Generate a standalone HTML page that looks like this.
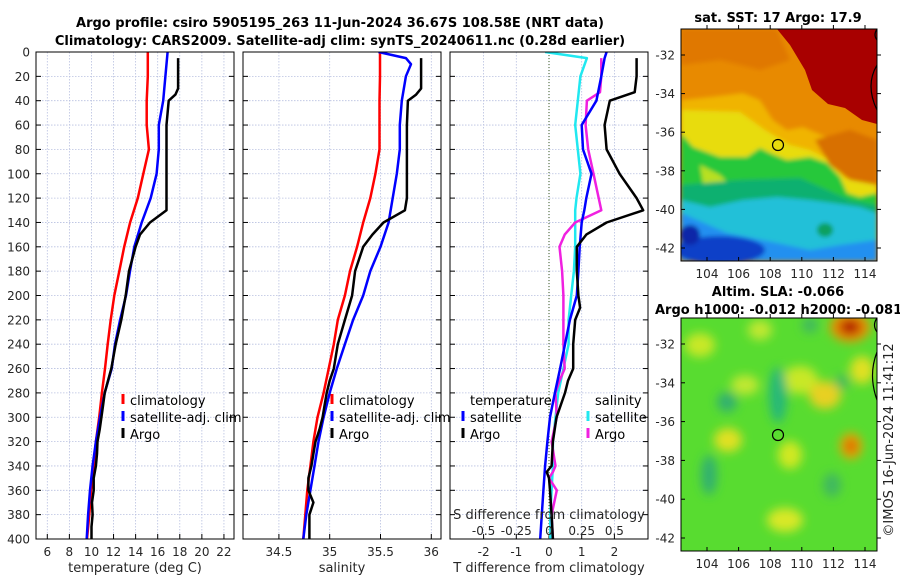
<!DOCTYPE html>
<html><head><meta charset="utf-8"><style>
html,body{margin:0;padding:0;background:#fff}
svg{display:block;font-family:"DejaVu Sans","Liberation Sans",sans-serif}
</style></head><body>
<svg id="c" width="900" height="580" xmlns="http://www.w3.org/2000/svg">
<defs>
<clipPath id="cp1"><rect x="36" y="52" width="198" height="487"/></clipPath>
<clipPath id="cp2"><rect x="243" y="52" width="198" height="487"/></clipPath>
<clipPath id="cp3"><rect x="450" y="52" width="198" height="487"/></clipPath>
<clipPath id="cm1"><rect x="681" y="29" width="196" height="232"/></clipPath>
<clipPath id="cm2"><rect x="681" y="318" width="196" height="233"/></clipPath>
<filter id="bl" x="-20%" y="-20%" width="140%" height="140%"><feGaussianBlur stdDeviation="2"/></filter>
<filter id="bl2" x="-50%" y="-50%" width="200%" height="200%"><feGaussianBlur stdDeviation="5"/></filter>
</defs>
<g font-weight="bold" font-size="13" text-anchor="middle" fill="#000">
<text x="340" y="27">Argo profile: csiro 5905195_263 11-Jun-2024 36.67S 108.58E (NRT data)</text>
<text x="340" y="45">Climatology: CARS2009. Satellite-adj clim: synTS_20240611.nc (0.28d earlier)</text>
</g>
<g id="plots"></g>
<!-- SST map -->
<g>
<text x="778" y="22" font-size="13" font-weight="bold" text-anchor="middle">sat. SST: 17 Argo: 17.9</text>
<g clip-path="url(#cm1)">
<rect x="681" y="29" width="196" height="232" fill="#e88a00"/>
<g filter="url(#bl)">
<polygon fill="#e07800" points="681,29 777,29 790,60 760,70 720,60 681,65"/>
<polygon fill="#f0b400" points="681,100 710,97 743,93 760,100 773,120 787,130 803,127 817,133 833,140 860,157 877,160 877,261 681,261"/>
<polygon fill="#e8dc10" points="681,110 740,112 765,130 790,145 810,150 830,160 845,178 877,185 877,261 681,261"/>
<polygon fill="#d87000" points="815,140 850,130 877,140 877,185 850,180 830,165"/>
<polygon fill="#28c83a" points="681,133 693,147 720,157 747,157 760,148 770,153 787,160 810,157 827,163 840,177 847,193 860,197 877,193 877,261 681,261"/>
<polygon fill="#b8e020" points="700,165 720,175 735,190 720,200 705,195"/>
<polygon fill="#10b070" points="681,185 740,180 800,178 850,200 877,205 877,261 681,261"/>
<polygon fill="#20c0d8" points="681,200 710,207 743,200 777,197 810,200 833,203 860,207 877,213 877,261 681,261"/>
<polygon fill="#2090f0" points="681,213 727,233 777,243 810,250 840,245 877,240 877,261 681,261"/>
<ellipse cx="720" cy="250" rx="45" ry="14" fill="#1040c8"/>
<ellipse cx="690" cy="235" rx="10" ry="10" fill="#0828a8"/>
<ellipse cx="825" cy="230" rx="8" ry="7" fill="#10a060"/>
</g>
<polygon fill="#a80000" points="777,29 877,29 877,124 862,120 845,108 828,104 812,90 805,70 790,45"/>
<path d="M877,65 Q865,85 877,110" fill="none" stroke="#000" stroke-width="1.2"/>
<path d="M877,29 Q873,35 877,40" fill="none" stroke="#000" stroke-width="1.2"/>
</g>
<circle cx="778" cy="145" r="5.5" fill="none" stroke="#000" stroke-width="1.2"/>
<rect x="681" y="29" width="196" height="232" fill="none" stroke="#000" stroke-width="1"/>
<g id="m1ax"></g>
</g>
<!-- SLA map -->
<g>
<text x="778" y="296" font-size="13" font-weight="bold" text-anchor="middle">Altim. SLA: -0.066</text>
<text x="655" y="314" font-size="13" font-weight="bold">Argo h1000: -0.012 h2000: -0.081</text>
<g clip-path="url(#cm2)">
<rect x="681" y="318" width="196" height="233" fill="#58dc30"/>
<g filter="url(#bl2)">
<ellipse cx="700" cy="345" rx="15" ry="12" fill="#c8e828"/>
<ellipse cx="745" cy="385" rx="14" ry="10" fill="#c0e830"/>
<ellipse cx="728" cy="440" rx="14" ry="12" fill="#e0e020"/>
<ellipse cx="800" cy="380" rx="18" ry="14" fill="#c8e828"/>
<ellipse cx="825" cy="395" rx="16" ry="14" fill="#e8d020"/>
<ellipse cx="790" cy="455" rx="12" ry="14" fill="#d0e820"/>
<ellipse cx="785" cy="520" rx="18" ry="12" fill="#d8e828"/>
<ellipse cx="760" cy="330" rx="12" ry="10" fill="#c0e830"/>
<ellipse cx="862" cy="370" rx="12" ry="14" fill="#e0e020"/>
<ellipse cx="778" cy="395" rx="9" ry="28" fill="#28b878"/>
<ellipse cx="727" cy="402" rx="10" ry="10" fill="#30b070"/>
<ellipse cx="709" cy="475" rx="8" ry="20" fill="#30b070"/>
<ellipse cx="832" cy="485" rx="9" ry="12" fill="#40b860"/>
<ellipse cx="842" cy="382" rx="7" ry="7" fill="#40b860"/>
<ellipse cx="810" cy="325" rx="8" ry="8" fill="#40b860"/>
<ellipse cx="851" cy="446" rx="11" ry="13" fill="#f0a000"/>
<ellipse cx="851" cy="446" rx="5" ry="6" fill="#d05000"/>
<ellipse cx="850" cy="327" rx="20" ry="15" fill="#f09000"/>
<ellipse cx="850" cy="327" rx="11" ry="8" fill="#b01000"/>
</g>
<path d="M877,352 Q868,375 877,400" fill="none" stroke="#000" stroke-width="1.2"/>
<path d="M877,318 Q872,325 877,332" fill="none" stroke="#000" stroke-width="1.2"/>
</g>
<circle cx="778" cy="435" r="5.5" fill="none" stroke="#000" stroke-width="1.2"/>
<rect x="681" y="318" width="196" height="233" fill="none" stroke="#000" stroke-width="1"/>
<g id="m2ax"></g>
</g>
<text transform="translate(893,440) rotate(-90)" font-size="13" text-anchor="middle" fill="#222">©IMOS 16-Jun-2024 11:41:12</text>
</svg>
<script>
// ---------- data ----------
const depthTicks=[0,20,40,60,80,100,120,140,160,180,200,220,240,260,280,300,320,340,360,380,400];
const tempTicks=[6,8,10,12,14,16,18,20,22];
const salTicks=[34.5,35,35.5,36];
const salTickLabels=["34.5","35","35.5","36"];
const dTTicks=[-2,-1,0,1,2];
const dSTicks=[-0.5,-0.25,0,0.25,0.5];
const dSTickLabels=["-0.5","-0.25","0","0.25","0.5"];

const climDepth=[0,20,40,60,80,100,120,140,160,180,200,220,240,260,280,300,320,340,360,380,400];
const climTemp=[15.1,15.1,15.0,15.0,15.2,14.7,14.2,13.5,12.97,12.52,12.07,11.74,11.47,11.23,10.95,10.7,10.4,10.2,9.96,9.8,9.6];
const satTemp=[16.9,16.7,16.5,16.1,16.1,15.9,15.37,14.55,13.88,13.49,13.13,12.59,12.13,11.83,11.2,10.77,10.4,10.1,9.87,9.7,9.57];
const climSal=[35.495,35.495,35.49,35.49,35.49,35.45,35.4,35.33,35.27,35.2,35.15,35.08,35.04,34.99,34.94,34.88,34.84,34.81,34.78,34.76,34.74];
const satSalDepth=[0,5,10,20,40,60,80,100,120,140,160,180,200,220,240,260,280,300,320,340,360,380,400];
const satSal=[35.48,35.75,35.8,35.75,35.71,35.69,35.69,35.66,35.62,35.58,35.5,35.4,35.33,35.23,35.15,35.07,35.0,34.94,34.89,34.85,34.81,34.77,34.74];

const argoDepth=[5,30,35,40,60,80,100,120,130,140,150,160,180,200,220,240,260,270,280,290,300,310,320,330,340,350,360,370,380,390,400];
const argoTemp=[17.85,17.85,17.6,17.0,16.8,16.8,16.8,16.8,16.8,15.3,14.4,14.0,13.4,13.1,12.7,12.2,11.8,11.5,11.2,11.05,10.9,10.75,10.55,10.5,10.4,10.2,10.2,10.05,10.1,10.0,10.0];
const argoSal=[35.9,35.9,35.85,35.77,35.76,35.76,35.76,35.76,35.74,35.53,35.42,35.33,35.25,35.22,35.15,35.08,35.04,35.0,34.97,34.95,34.93,34.9,34.86,34.84,34.82,34.79,34.79,34.84,34.8,34.8,34.8];

const diffDepth=[0,5,20,40,60,80,100,120,130,140,150,160,180,200,220,240,260,280,300,320,340,360,380,400];
const satTDiff=[1.76,1.7,1.6,1.45,1.0,1.04,1.3,1.14,1.08,1.0,0.97,0.94,0.9,0.85,0.64,0.49,0.34,0.18,0.03,-0.05,-0.12,-0.17,-0.22,-0.27];
const satSDiff=[-0.03,0.29,0.24,0.22,0.2,0.22,0.24,0.21,0.2,0.2,0.2,0.2,0.19,0.17,0.15,0.15,0.11,0.07,0.05,0.03,0.03,0.02,0.01,0.01];
const argoDiffDepth=[5,20,33,40,60,80,100,120,130,140,150,160,180,200,210,220,240,260,270,280,300,320,340,345,350,360,380,400];
const argoTDiff=[2.68,2.68,2.62,1.86,1.7,1.76,2.16,2.68,2.88,1.76,1.14,0.85,0.85,0.9,0.95,0.8,0.74,0.74,0.58,0.49,0.23,0.12,0.08,-0.07,0.0,0.03,0.08,0.12];
const argoSDiff=[0.4,0.4,0.39,0.29,0.28,0.3,0.34,0.38,0.4,0.2,0.12,0.08,0.1,0.11,0.11,0.11,0.11,0.12,0.08,0.05,0.06,0.02,0.05,0.03,0.0,0.06,0.02,0.03];

const mapLatTicks=[-32,-34,-36,-38,-40,-42];
const mapLonTicks=[104,106,108,110,112,114];

// ---------- scales ----------
const y=d=>52+d*1.2175;
const xT=v=>47.3+(v-6)*11.04;
const xS=v=>329.7+(v-35)*101.6;
const xD=v=>549+v*32.7;
const xDS=v=>549+v*130.8;
const NS='http://www.w3.org/2000/svg';
const root=document.getElementById('plots');
function mk(tag,attrs,parent){const e=document.createElementNS(NS,tag);for(const k in attrs)e.setAttribute(k,attrs[k]);(parent||root).appendChild(e);return e;}

function panel(x0,xs,ticks,labels,name,clip){
  const g=mk('g',{});
  
  
  ticks.forEach(t=>{mk('line',{x1:xs(t),x2:xs(t),y1:52,y2:539,stroke:'#b8c0e0','stroke-width':0.8,'stroke-dasharray':'1.5,1.5'},g);});
  depthTicks.forEach(d=>{mk('line',{x1:x0,x2:x0+198,y1:y(d),y2:y(d),stroke:'#b8c0e0','stroke-width':0.8,'stroke-dasharray':'1.5,1.5'},g);
    mk('line',{x1:x0,x2:x0+5,y1:y(d),y2:y(d),stroke:'#000'},g);
    mk('line',{x1:x0+198-5,x2:x0+198,y1:y(d),y2:y(d),stroke:'#000'},g);});
  ticks.forEach((t,i)=>{mk('line',{x1:xs(t),x2:xs(t),y1:534,y2:539,stroke:'#000'},g);
    const tx=mk('text',{x:xs(t),y:556,'font-size':12,'text-anchor':'middle',fill:'#262626'},g);tx.textContent=labels[i];
    
    });
  const lines=mk('g',{'clip-path':'url(#'+clip+')'},g);
  return {g,lines};
}
function poly(vals,depths,xs,color,w,parent,name){
  const pts=vals.map((v,i)=>xs(v).toFixed(1)+','+y(depths[i]).toFixed(1)).join(' ');
  const p=mk('polyline',{points:pts,fill:'none',stroke:color,'stroke-width':w,'stroke-linejoin':'round'},parent);
  
  
}
function legend(g,x,yy,color,label,name){
  mk('line',{x1:x,x2:x,y1:yy-11,y2:yy-1,stroke:color,'stroke-width':3},g);
  const t=mk('text',{x:x+7,y:yy,'font-size':13,fill:'#000'},g);t.textContent=label;
  
  
}

// panel 1
const p1=panel(36,xT,tempTicks,tempTicks.map(String),'temperature','cp1');
poly(climTemp,climDepth,xT,'#f00',2.5,p1.lines,'climatology-temp-line');
poly(satTemp,climDepth,xT,'#00f',2.5,p1.lines,'satellite-temp-line');
poly(argoTemp,argoDepth,xT,'#000',2.5,p1.lines,'argo-temp-line');
mk('rect',{x:36,y:52,width:198,height:487,fill:'none',stroke:'#000'},p1.g);
depthTicks.forEach(d=>{const t=mk('text',{x:30,y:y(d)+4.5,'font-size':12,'text-anchor':'end',fill:'#262626'},p1.g);t.textContent=d;
  
  });
const xl1=mk('text',{x:135,y:572,'font-size':13,'text-anchor':'middle',fill:'#262626'},p1.g);xl1.textContent='temperature (deg C)';


legend(p1.g,123,405,'#f00','climatology','legend-climatology');
legend(p1.g,123,422,'#00f','satellite-adj. clim','legend-satellite-adj');
legend(p1.g,123,439,'#000','Argo','legend-argo');

// panel 2
const p2=panel(243,xS,salTicks,salTickLabels,'salinity','cp2');
poly(climSal,climDepth,xS,'#f00',2.5,p2.lines,'climatology-sal-line');
poly(satSal,satSalDepth,xS,'#00f',2.5,p2.lines,'satellite-sal-line');
poly(argoSal,argoDepth,xS,'#000',2.5,p2.lines,'argo-sal-line');
mk('rect',{x:243,y:52,width:198,height:487,fill:'none',stroke:'#000'},p2.g);
const xl2=mk('text',{x:342,y:572,'font-size':13,'text-anchor':'middle',fill:'#262626'},p2.g);xl2.textContent='salinity';


legend(p2.g,332,405,'#f00','climatology','legend-climatology-2');
legend(p2.g,332,422,'#00f','satellite-adj. clim','legend-satellite-adj-2');
legend(p2.g,332,439,'#000','Argo','legend-argo-2');

// panel 3
const p3=panel(450,xD,dTTicks,dTTicks.map(String),'difference','cp3');
mk('line',{x1:xD(0),x2:xD(0),y1:52,y2:539,stroke:'#3a5a20','stroke-width':1,'stroke-dasharray':'1,2'},p3.lines);
poly(satSDiff,diffDepth,xDS,'#20e8f0',2.5,p3.lines,'satellite-sal-diff-line');
poly(argoSDiff,argoDiffDepth,xDS,'#f020e0',2.5,p3.lines,'argo-sal-diff-line');
poly(satTDiff,diffDepth,xD,'#00f',2.5,p3.lines,'satellite-temp-diff-line');
poly(argoTDiff,argoDiffDepth,xD,'#000',2.5,p3.lines,'argo-temp-diff-line');
mk('rect',{x:450,y:52,width:198,height:487,fill:'none',stroke:'#000'},p3.g);
const xl3=mk('text',{x:549,y:572,'font-size':13,'text-anchor':'middle',fill:'#262626'},p3.g);xl3.textContent='T difference from climatology';


const st=mk('text',{x:549,y:519,'font-size':13,'text-anchor':'middle',fill:'#262626'},p3.g);st.textContent='S difference from climatology';


dSTicks.forEach((t,i)=>{const tx=mk('text',{x:xDS(t),y:535,'font-size':12,'text-anchor':'middle',fill:'#262626'},p3.g);tx.textContent=dSTickLabels[i];
  
  });
const lt=mk('text',{x:470,y:405,'font-size':13,fill:'#000'},p3.g);lt.textContent='temperature';


const ls=mk('text',{x:595,y:405,'font-size':13,fill:'#000'},p3.g);ls.textContent='salinity';


legend(p3.g,463,422,'#00f','satellite','legend-temp-satellite');
legend(p3.g,463,439,'#000','Argo','legend-temp-argo');
legend(p3.g,588,422,'#20e8f0','satellite','legend-sal-satellite');
legend(p3.g,588,439,'#f020e0','Argo','legend-sal-argo');

// map axes
function mapAxes(id,top,latY,lonX,bottom){
  const g=document.getElementById(id);
  mapLatTicks.forEach(l=>{const yy=latY(l);
    mk('line',{x1:681,x2:685,y1:yy,y2:yy,stroke:'#000'},g);
    mk('line',{x1:877,x2:881,y1:yy,y2:yy,stroke:'#000'},g);
    const t=mk('text',{x:675,y:yy+4.5,'font-size':12,'text-anchor':'end',fill:'#262626'},g);t.textContent=l;
    
    });
  mapLonTicks.forEach(l=>{const xx=lonX(l);
    mk('line',{x1:xx,x2:xx,y1:bottom-4,y2:bottom,stroke:'#000'},g);
    mk('line',{x1:xx,x2:xx,y1:top,y2:top-4,stroke:'#000'},g);
    const t=mk('text',{x:xx,y:bottom+17,'font-size':12,'text-anchor':'middle',fill:'#262626'},g);t.textContent=l;
    
    });
}
const lonX=l=>707+(l-104)*15.8;
mapAxes('m1ax',29,l=>55+(-32-l)*19.3,lonX,261);
mapAxes('m2ax',318,l=>344+(-32-l)*19.4,lonX,551);
</script>
</body></html>
